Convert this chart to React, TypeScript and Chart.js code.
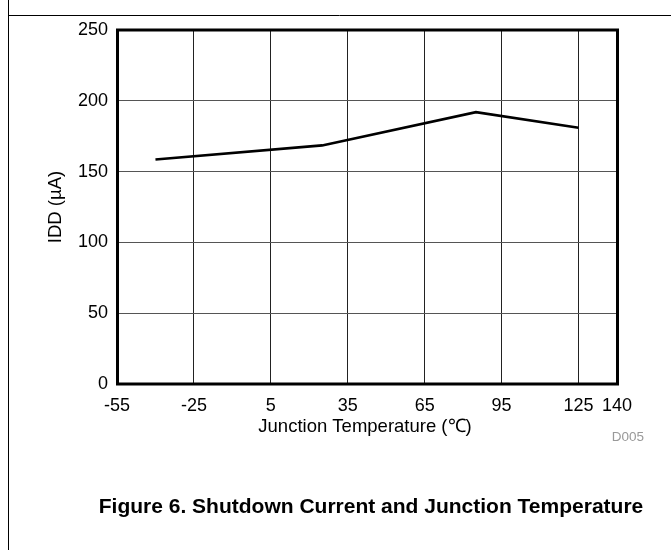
import React, { useEffect, useRef } from "react";
import { Chart, registerables } from "chart.js";

Chart.register(...registerables);

const temperatures = [-40, 25, 85, 125];
const iddValues = [158.5, 168.5, 192, 181];
const xTickValues = [-55, -25, 5, 35, 65, 95, 125, 140];
const yTickValues = [0, 50, 100, 150, 200, 250];
const xTitle = "Junction Temperature (\u2103)";
const yTitle = "IDD (\u00b5A)";
const figureCaption = "Figure 6. Shutdown Current and Junction Temperature";
const figureId = "D005";

const FONT = '"Liberation Sans", Arial, Helvetica, sans-serif';
const W = 671;
const H = 550;

export default function App() {
  const ref = useRef<HTMLCanvasElement>(null);

  useEffect(() => {
    const canvas = ref.current;
    if (!canvas) return;

    const decor = {
      id: "decor",
      beforeDraw(chart: any) {
        const ctx = chart.ctx;
        ctx.save();
        ctx.fillStyle = "#fff";
        ctx.fillRect(0, 0, chart.width, chart.height);
        ctx.strokeStyle = "#000";
        ctx.lineWidth = 1;
        ctx.beginPath();
        ctx.moveTo(8.5, 0);
        ctx.lineTo(8.5, chart.height);
        ctx.moveTo(8, 15.5);
        ctx.lineTo(chart.width, 15.5);
        ctx.stroke();
        ctx.restore();
      },
      afterDraw(chart: any) {
        const ctx = chart.ctx;
        const a = chart.chartArea;
        ctx.save();
        ctx.strokeStyle = "#000";
        ctx.lineWidth = 3;
        ctx.strokeRect(a.left + 0.5, a.top, a.right - a.left, a.bottom - a.top);

        ctx.fillStyle = "#000";
        ctx.font = `18.5px ${FONT}`;
        ctx.textAlign = "center";
        ctx.textBaseline = "middle";
        ctx.fillText(xTitle, 365, 427);

        ctx.save();
        ctx.translate(56, (a.top + a.bottom) / 2);
        ctx.rotate(-Math.PI / 2);
        ctx.fillText(yTitle, 0, 0);
        ctx.restore();

        ctx.fillStyle = "#999";
        ctx.font = `13.5px ${FONT}`;
        ctx.textAlign = "right";
        ctx.fillText(figureId, 644, 437);

        ctx.fillStyle = "#000";
        ctx.font = `bold 21px ${FONT}`;
        ctx.textAlign = "center";
        ctx.fillText(figureCaption, 371, 507);
        ctx.restore();
      },
    };

    const chart = new Chart(canvas, {
      type: "line",
      data: {
        datasets: [
          {
            data: temperatures.map((t, i) => ({ x: t, y: iddValues[i] })),
            borderColor: "#000",
            borderWidth: 2.6,
            pointRadius: 0,
            tension: 0,
            fill: false,
          },
        ],
      },
      options: {
        responsive: false,
        animation: false,
        devicePixelRatio: 1,
        layout: { padding: { top: 30, right: 54, bottom: 0, left: 0 } },
        plugins: {
          legend: { display: false },
          tooltip: { enabled: false },
          title: { display: false },
        },
        scales: {
          x: {
            type: "linear",
            min: xTickValues[0],
            max: xTickValues[xTickValues.length - 1],
            afterBuildTicks: (s: any) => {
              s.ticks = xTickValues.map((v) => ({ value: v }));
            },
            afterFit: (s: any) => {
              s.height = H - 384;
            },
            grid: { color: "#222", lineWidth: 1, drawTicks: false },
            border: { display: false },
            ticks: {
              color: "#000",
              font: { family: FONT, size: 18 },
              padding: 11,
              autoSkip: false,
              maxRotation: 0,
              callback: (v: any) => String(v),
            },
          },
          y: {
            type: "linear",
            min: yTickValues[0],
            max: yTickValues[yTickValues.length - 1],
            afterBuildTicks: (s: any) => {
              s.ticks = yTickValues.map((v) => ({ value: v }));
            },
            afterFit: (s: any) => {
              s.width = 117;
            },
            grid: { color: "#555", lineWidth: 1, drawTicks: false },
            border: { display: false },
            ticks: {
              color: "#000",
              font: { family: FONT, size: 18 },
              padding: 9,
              callback: (v: any) => String(v),
            },
          },
        },
      },
      plugins: [decor],
    });

    return () => chart.destroy();
  }, []);

  return (
    <div style={{ position: "absolute", left: 0, top: 0, width: W, height: H, background: "#fff" }}>
      <canvas ref={ref} width={W} height={H} style={{ display: "block", width: W, height: H }} />
    </div>
  );
}
